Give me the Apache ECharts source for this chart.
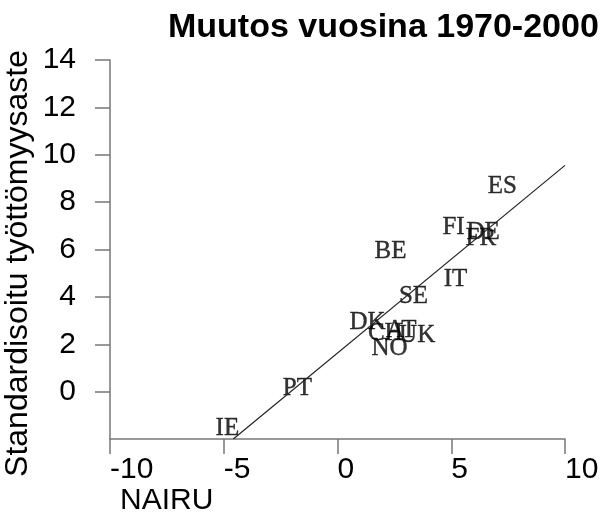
<!DOCTYPE html>
<html>
<head>
<meta charset="utf-8">
<title>Muutos vuosina 1970-2000</title>
<script src="https://cdn.jsdelivr.net/npm/echarts@6/dist/echarts.min.js"></script>
<style>
  html, body { margin: 0; padding: 0; background: #fff; }
  #chart { width: 610px; height: 517px; }
</style>
</head>
<body>
<div id="chart"></div>
<script>
// maat: NAIRU-muutos (x) ja työttömyysasteen muutos (y)
var countries = ['ES', 'FI', 'DE', 'FR', 'BE', 'IT', 'SE', 'DK', 'CH', 'AT', 'UK', 'NO', 'PT', 'IE'];
var nairu = [7.25, 5.1, 6.4, 6.3, 2.33, 5.19, 3.34, 1.32, 2.1, 2.8, 3.5, 2.29, -1.76, -4.84];
var unemp = [8.67, 6.93, 6.72, 6.47, 5.92, 4.74, 4.02, 2.92, 2.45, 2.58, 2.38, 1.82, 0.13, -1.56];
// regressiosuoran päätepisteet
var fitX = [-4.58, 10];
var fitY = [-2.0, 9.55];
var xTicks = [-10, -5, 0, 5, 10];
var yTicks = [0, 2, 4, 6, 8, 10, 12, 14];

(function() {
  var chart = echarts.init(document.getElementById('chart'), null, { renderer: 'canvas' });
  var sans = 'Liberation Sans, Arial, sans-serif';
  var serif = 'Liberation Serif, Times New Roman, serif';
  var axisGray = '#777';

  var points = countries.map(function(c, i) { return { name: c, value: [nairu[i], unemp[i]] }; });
  var fit = fitX.map(function(x, i) { return [x, fitY[i]]; });

  chart.setOption({
    animation: false,
    backgroundColor: '#fff',
    title: {
      text: 'Muutos vuosina 1970-2000',
      left: 163, top: 6,
      textStyle: { fontFamily: sans, fontSize: 34, fontWeight: 'bold', color: '#000' }
    },
    grid: { left: 110, right: 45, top: 60, bottom: 78, outerBoundsMode: 'none', containLabel: false },
    xAxis: {
      type: 'value',
      min: -10, max: 10, interval: 5,
      name: 'NAIRU',
      nameLocation: 'start',
      nameGap: -10,
      nameTextStyle: { fontFamily: sans, fontSize: 30, color: '#000', align: 'left', verticalAlign: 'top', padding: [47, 0, 0, 0] },
      axisLine: { show: true, onZero: false, lineStyle: { color: axisGray, width: 1.5 } },
      axisTick: { show: true, inside: false, length: 15, customValues: xTicks, lineStyle: { color: axisGray, width: 1.5 } },
      axisLabel: { fontFamily: sans, fontSize: 30, color: '#000', margin: 16, align: 'left', customValues: xTicks },
      splitLine: { show: false }
    },
    yAxis: {
      type: 'value',
      min: -2, max: 14, interval: 2,
      name: 'Standardisoitu työttömyysaste',
      nameLocation: 'middle',
      nameRotate: 90,
      nameGap: 76,
      nameMoveOverlap: false,
      nameTextStyle: { fontFamily: sans, fontSize: 32, color: '#000', padding: [0, 28, 0, 0] },
      axisLine: { show: true, onZero: false, lineStyle: { color: axisGray, width: 1.5 } },
      axisTick: { show: true, inside: false, length: 15, customValues: yTicks, lineStyle: { color: axisGray, width: 1.5 } },
      axisLabel: { fontFamily: sans, fontSize: 30, color: '#000', margin: 34, customValues: yTicks },
      splitLine: { show: false }
    },
    series: [
      {
        type: 'line',
        data: fit,
        showSymbol: false,
        symbol: 'none',
        lineStyle: { color: '#222', width: 1.2 },
        silent: true
      },
      {
        type: 'scatter',
        data: points,
        symbolSize: 0,
        label: {
          show: true,
          position: 'inside',
          formatter: '{b}',
          fontFamily: serif,
          fontSize: 25,
          color: '#000',
          textBorderColor: '#000',
          textBorderWidth: 0.4
        }
      }
    ]
  });
  window.addEventListener('resize', function() { chart.resize(); });
})();
</script>
</body>
</html>
